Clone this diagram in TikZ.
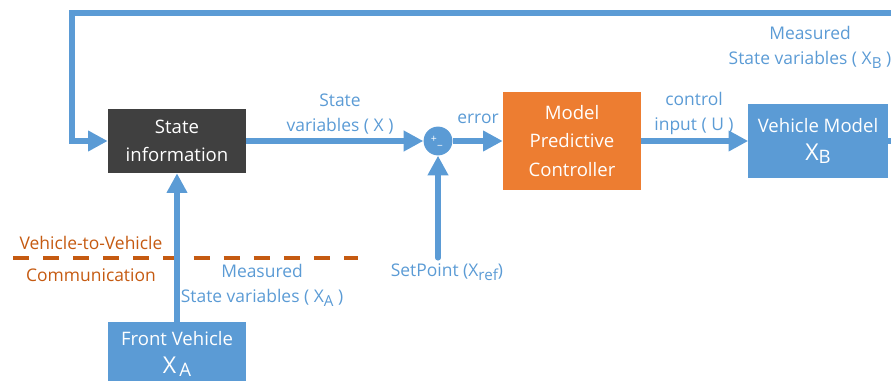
\documentclass[tikz,border=0pt]{standalone}
\usepackage{fontspec}
\setmainfont{Open Sans}
\usetikzlibrary{arrows.meta}
\definecolor{mpcblue}{HTML}{5B9BD5}
\definecolor{mpcorange}{HTML}{ED7D31}
\definecolor{mpcgray}{HTML}{404040}
\definecolor{vtvorange}{HTML}{C55A11}
\newcommand\lowsub[1]{\raisebox{-0.45ex}{\fontsize{10.8}{11}\selectfont #1}}
\newcommand\bigx[1]{{\fontsize{16.5}{18}\selectfont X}\raisebox{-0.3ex}{#1}}
\tikzset{
  block/.style={rectangle, text=white, align=center, inner sep=0pt, font=\fontsize{13.2}{20}\selectfont},
  flow/.style={draw=mpcblue, line width=3.6pt, -{Triangle[length=14pt,width=14pt]}},
  lbl/.style={text=mpcblue, align=center, inner sep=0pt, font=\fontsize{12.4}{17.8}\selectfont},
  vtvtext/.style={text=vtvorange, inner sep=0pt, font=\fontsize{12.4}{17.8}\selectfont},
}

\begin{document}
\begin{tikzpicture}[x=0.025cm, y=-0.025cm]
\useasboundingbox (0,0) rectangle (891,380);
\clip (0,0) rectangle (891,380);

\node[lbl] (lx) at (340,114) {State\\variables ( X )};
\node[lbl] (lerr) at (478,119) {error};
\node[lbl] (lu) at (694,113) {control\\input ( U )};
\node[lbl] (lxb) at (810,47) {Measured\\State variables ( X\lowsub{B} )};
\node[lbl] (lxa) at (262,285) {Measured\\State variables ( X\lowsub{A} )};
\node[lbl] (lref) at (447,272) {SetPoint (X\lowsub{ref})};
\node[vtvtext] (lv1) at (91,243) {Vehicle-to-Vehicle};
\node[vtvtext] (lv2) at (91,275) {Communication};

\node[block, fill=mpcgray, minimum width=3.45cm, minimum height=1.6cm] (si) at (177,141) {State\\information};
\node[block, fill=mpcorange, minimum width=3.45cm, minimum height=2.425cm] (mpc) at (572,141) {Model\\Predictive\\Controller};
\node[block, fill=mpcblue, minimum width=3.475cm, minimum height=1.825cm] (vm) at (818,141) {Vehicle Model\\\bigx{B}};
\node[block, fill=mpcblue, minimum width=3.425cm, minimum height=1.6cm] (fv) at (177,354) {Front Vehicle\\\bigx{\,A}};
\node[circle, fill=mpcblue, minimum size=0.72cm, inner sep=0pt] (sum) at (438,141) {};
\node[text=white, inner sep=0pt, font=\fontsize{7.5}{7.5}\selectfont] (plus) at (434,139) {+};
\node[text=white, inner sep=0pt, font=\fontsize{7.5}{7.5}\selectfont] (minus) at (440,145) {\_};

\coordinate (vtvl) at (13,258);
\coordinate (vtvr) at (358,258);
\draw[vtvorange, line width=2.8pt, dash pattern=on 11.4pt off 10pt] (vtvl) -- (vtvr);

\coordinate (sp) at (438,258);
\coordinate (fbr) at (920,13);
\coordinate (fbl) at (72,13);
\draw[flow] (si) -- (sum);
\draw[flow] (sum) -- (mpc);
\draw[flow] (mpc) -- (vm);
\draw[flow] (fv) -- (si);
\draw[flow, line cap=round] (sp) -- (sum);
\draw[flow] (vm.east) -| (fbr) -- (fbl) |- (si.west);
\end{tikzpicture}
\end{document}
